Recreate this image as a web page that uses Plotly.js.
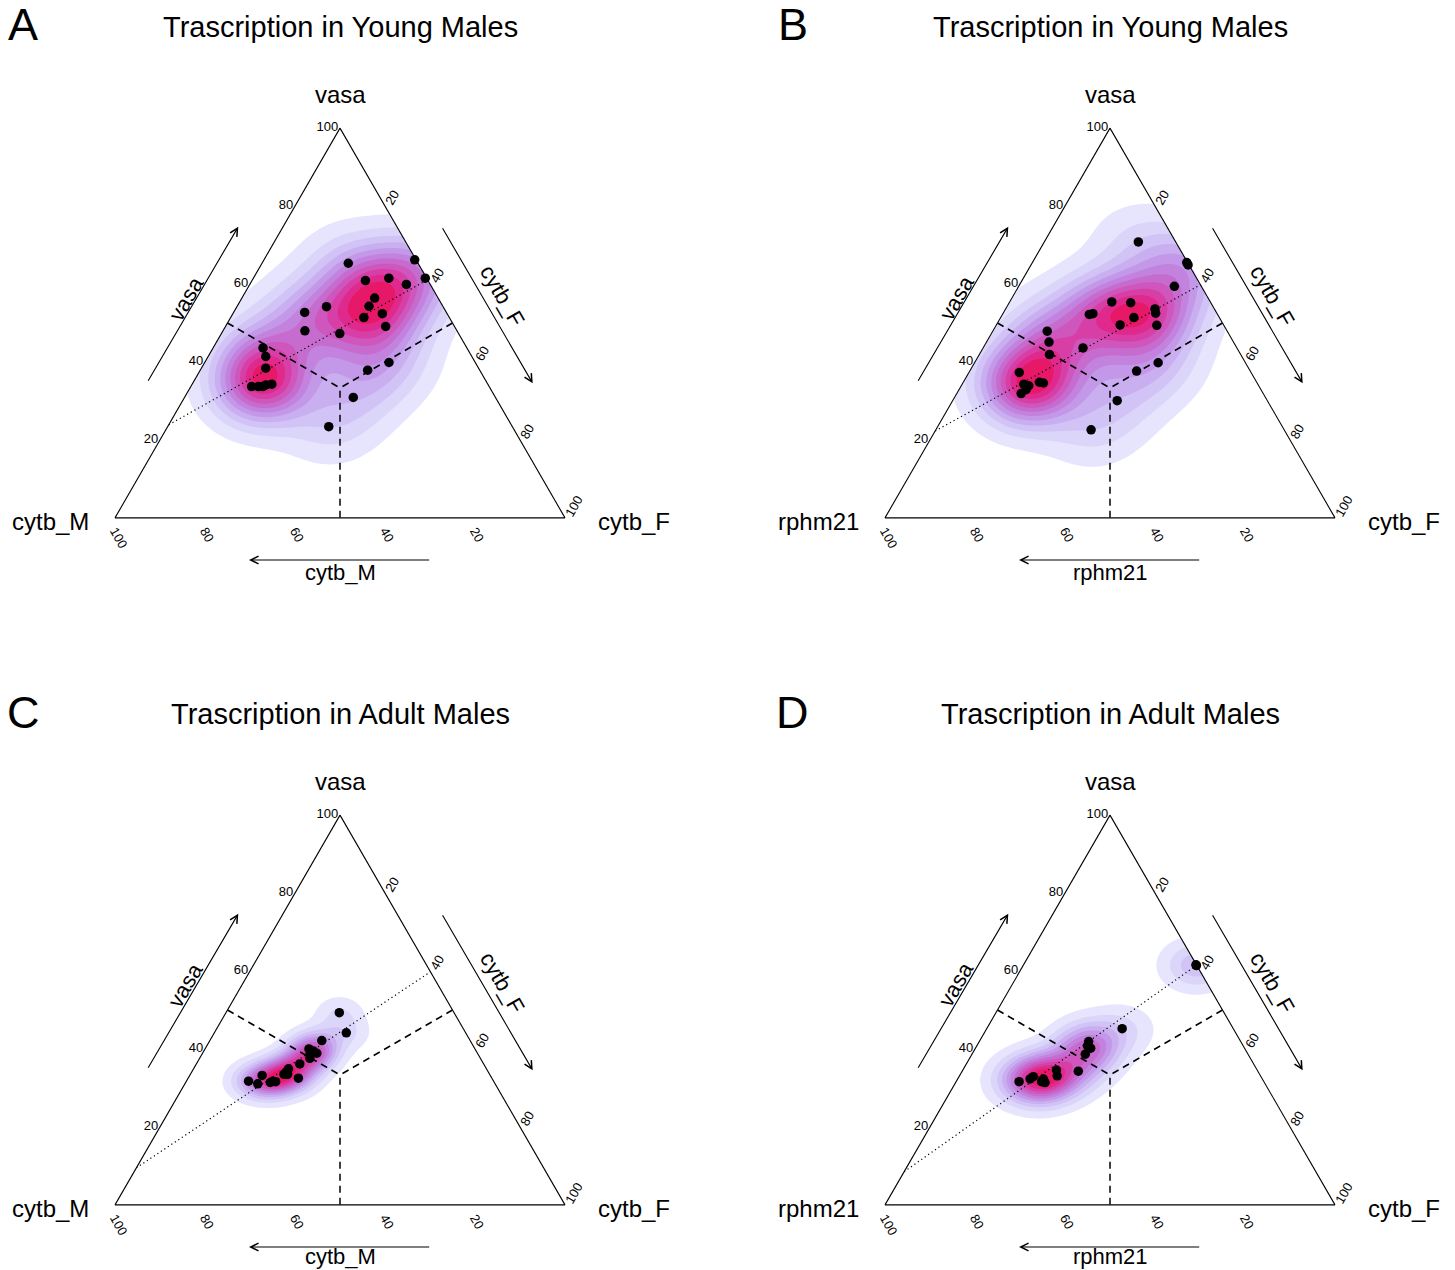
<!DOCTYPE html>
<html><head><meta charset="utf-8">
<script src="https://cdn.plot.ly/plotly-3.0.1.min.js"></script>
<style>html,body{margin:0;padding:0;background:#fff}#chart{width:1455px;height:1270px}</style>
</head><body><div id="chart"></div>
<script>
// ---------------- DATA (percent) ----------------
// Panel A: Young males, vasa / cytb_M / cytb_F
const A_vasa  = [65.4,66.2,61.5,60.9,61.5,59.9,56.4,54.3,51.4,52.4,49.1,54.2,52.7,48.0,47.3,43.6,41.4,38.4,33.7,33.7,33.7,34.1,34.3,39.9,37.9,30.9,23.4];
const A_cytbM = [15.5, 0.3, 0.3,13.9, 8.4, 5.3,14.1,16.4,19.0,14.4,15.3,25.9,31.5,33.8,26.4,45.3,45.8,47.3,52.8,51.3,50.3,49.4,48.0,19.2,24.9,31.6,40.8];
const A_cytbF = [19.2,33.5,38.2,25.2,30.1,34.8,29.5,29.3,29.6,33.2,35.6,19.9,15.8,18.2,26.3,11.1,12.8,14.3,13.5,15.0,16.0,16.5,17.7,41.0,37.2,37.5,35.8];
// Panel B: Young males, vasa / rphm21 / cytb_F
const B_vasa   = [70.8,65.5,64.9,59.4,55.4,55.2,53.6,52.5,51.4,49.5,49.4,52.2,52.4,47.9,45.1,41.9,43.6,37.3,34.3,33.9,32.9,31.9,34.8,34.6,39.8,37.6,30.1,22.6];
const B_rphm21 = [ 8.3, 0.2, 0.2, 6.0,21.9,17.8,13.2,13.6,19.0,23.0,14.9,28.5,27.6,40.0,41.0,42.5,34.2,51.5,52.0,51.1,52.2,53.8,48.3,47.5,19.4,25.2,33.4,42.9];
const B_cytbF  = [20.9,34.3,34.9,34.6,22.7,27.0,33.2,33.9,29.6,27.5,35.7,19.3,20.0,12.1,13.9,15.6,22.2,11.2,13.7,15.0,14.9,14.3,16.9,17.9,40.8,37.0,36.6,34.5];
// Panel C: Adult males, vasa / cytb_M / cytb_F
const C_vasa  = [49.3,44.1,42.2,40.0,39.5,38.9,38.7,37.6,36.2,34.9,34.1,33.5,33.5,32.5,31.7,31.4,31.6,33.2,31.1,31.7];
const C_cytbM = [25.5,26.5,33.0,36.9,36.2,35.7,37.3,37.9,40.9,44.0,45.0,45.7,44.9,43.0,49.1,49.8,48.5,50.7,52.8,54.4];
const C_cytbF = [25.2,29.3,24.9,23.1,24.3,25.4,24.0,24.5,23.0,21.1,21.0,20.8,21.6,24.5,19.2,18.8,19.9,16.1,16.2,13.8];
// Panel D: Adult males, vasa / rphm21 / cytb_F
const D_vasa   = [61.4,61.6,45.2,41.9,40.8,40.2,38.7,34.3,34.6,33.1,32.3,31.6,31.4,32.9,32.3,31.6];
const D_rphm21 = [ 0.1, 0.1,24.7,33.8,34.6,34.2,36.2,39.9,44.6,45.2,48.7,49.4,48.8,50.6,51.6,54.4];
const D_cytbF  = [38.5,38.3,30.1,24.3,24.6,25.6,25.2,25.8,20.8,21.7,19.1,19.0,19.9,16.5,16.1,14.0];

// dotted trend lines (two end points each)
const A_line = {vasa:[23.9,61.1], left:[76.1,0], right:[0,38.9]};
const B_line = {vasa:[22.3,59.8], left:[77.7,0], right:[0,40.2]};
const C_line = {vasa:[9.5,59.8],  left:[90.5,0], right:[0,40.2]};
const D_line = {vasa:[8.5,61.5],  left:[91.5,0], right:[0,38.5]};

// tick labels
const tickVals = [20,40,60,80,100];
const tickText = ['20','40','60','80','100'];

const titles  = ['Trascription in Young Males','Trascription in Young Males','Trascription in Adult Males','Trascription in Adult Males'];
const letters = ['A','B','C','D'];
const topLabel = 'vasa';
const leftLabels  = ['cytb_M','rphm21','cytb_M','rphm21'];
const rightLabels = ['cytb_F','cytb_F','cytb_F','cytb_F'];

// ---------------- LAYOUT HELPERS ----------------
const W=1455, H=1270, SIDE=450, TH=SIDE*Math.sqrt(3)/2;
const FONT='Liberation Sans, Arial, Helvetica, sans-serif';
const origins = [[115,518],[885,518],[115,1205],[885,1205]];
const dataSets = [
  [A_vasa,A_cytbM,A_cytbF,A_line],
  [B_vasa,B_rphm21,B_cytbF,B_line],
  [C_vasa,C_cytbM,C_cytbF,C_line],
  [D_vasa,D_rphm21,D_cytbF,D_line]
];
const bandColors = ['rgba(255,255,255,0)','#e6e5fd','#dcd5fa','#d2c3f6','#c9aef0','#c398e8','#c282dd','#c66ccf','#ce56bd','#d73fa7','#e0298c','#e81868'];

function bw(v){
  const n=v.length, m=v.reduce((s,x)=>s+x,0)/n;
  const sd=Math.sqrt(v.reduce((s,x)=>s+(x-m)*(x-m),0)/(n-1));
  const s=[...v].sort((p,q)=>p-q);
  const q=p=>{const h=(n-1)*p, lo=Math.floor(h); return s[lo]+(h-lo)*(s[Math.min(lo+1,n-1)]-s[lo]);};
  let sig=Math.min(sd,(q(0.75)-q(0.25))/1.34); if(!(sig>0)) sig=sd;
  return 1.06*sig*Math.pow(n,-0.2);
}

function density(av,bv,cv,factor){
  const xs=[],ys=[];
  for(let i=0;i<av.length;i++){
    const s=av[i]+bv[i]+cv[i], a=av[i]/s, c=cv[i]/s;
    xs.push(c+a/2); ys.push(a*Math.sqrt(3)/2);
  }
  const hx=bw(xs)*factor, hy=bw(ys)*factor;
  const NX=226, NY=196, gx=[], gy=[], z=[];
  for(let i=0;i<NX;i++) gx.push(i/(NX-1));
  for(let j=0;j<NY;j++) gy.push(j/(NY-1));
  let mx=0;
  for(let j=0;j<NY;j++){
    const row=[], a=gy[j], Y=a*Math.sqrt(3)/2;
    for(let i=0;i<NX;i++){
      const x=gx[i];
      if(x<a/2-1e-9 || x>1-a/2+1e-9){row.push(0);continue;}
      let d=0;
      for(let k=0;k<xs.length;k++){
        const dx=(x-xs[k])/hx, dy=(Y-ys[k])/hy;
        d+=Math.exp(-0.5*(dx*dx+dy*dy));
      }
      row.push(d); if(d>mx) mx=d;
    }
    z.push(row);
  }
  return {gx,gy,z,mx};
}

const traces=[], annotations=[], layout={
  width:W, height:H, margin:{l:0,r:0,t:0,b:0}, paper_bgcolor:'#fff', plot_bgcolor:'rgba(0,0,0,0)',
  showlegend:false, font:{family:FONT,color:'#000'}
};

function tAxis(angle){
  return {title:{text:''}, tickmode:'array', tickvals:tickVals, ticktext:tickText, tickangle:angle,
    ticks:'', showgrid:false, showline:true, linecolor:'#000', linewidth:1.1,
    tickfont:{family:FONT,size:13,color:'#000'}, showticklabels:true};
}
function txt(x,y,text,size,extra){
  return Object.assign({x:x/W,y:1-y/H,xref:'paper',yref:'paper',text:text,showarrow:false,
    font:{family:FONT,size:size,color:'#000'},xanchor:'center',yanchor:'middle'},extra||{});
}
function arrow(tx,ty,hx,hy){
  return {x:hx/W,y:1-hy/H,xref:'paper',yref:'paper',ax:tx-hx,ay:ty-hy,axref:'pixel',ayref:'pixel',
    text:'',showarrow:true,arrowhead:5,arrowsize:1.4,arrowwidth:1.1,arrowcolor:'#000',standoff:0,startstandoff:0};
}

origins.forEach(([ox,oy],p)=>{
  const [av,bv,cv,ln]=dataSets[p];
  const sfx = p===0?'':String(p+1);
  const tid='ternary'+sfx;
  const dom={x:[ox/W,(ox+SIDE)/W], y:[1-oy/H, 1-(oy-390)/H]};
  layout[tid]={domain:dom, sum:100, bgcolor:'rgba(0,0,0,0)', aaxis:tAxis(0), baxis:tAxis(60), caxis:tAxis(-60)};
  // hidden cartesian axes carrying the density contour, aligned with the triangle
  const yb = oy-195+TH/2, yt = oy-195-TH/2;
  layout['xaxis'+sfx]={domain:dom.x, range:[0,1], visible:false, fixedrange:true, anchor:'y'+sfx};
  layout['yaxis'+sfx]={domain:[1-yb/H,1-yt/H], range:[0,1], visible:false, fixedrange:true, anchor:'x'+sfx};

  const den=density(av,bv,cv,1.05);
  const nLev=bandColors.length-1;
  const start=den.mx*0.055, size=den.mx*0.083;
  traces.push({type:'contour', x:den.gx, y:den.gy, z:den.z, xaxis:'x'+sfx, yaxis:'y'+sfx,
    autocontour:false, contours:{start:start, end:start+(nLev-1)*size, size:size, coloring:'fill', showlines:false},
    line:{width:0}, colorscale:bandColors.map((c,k)=>[k/nLev,c]), showscale:false, hoverinfo:'skip'});

  // dashed centroid lines
  const med=[[50,50,0],[50,0,50],[0,50,50]];
  med.forEach(m=>{
    traces.push({type:'scatterternary', subplot:tid, mode:'lines', a:[m[0],100/3], b:[m[1],100/3], c:[m[2],100/3],
      line:{color:'#000',width:1.5,dash:'7px,5px'}, hoverinfo:'skip', cliponaxis:false});
  });
  // dotted line
  traces.push({type:'scatterternary', subplot:tid, mode:'lines', a:ln.vasa, b:ln.left, c:ln.right,
    line:{color:'#000',width:1.2,dash:'1.2px,3px'}, hoverinfo:'skip', cliponaxis:false});
  // points
  traces.push({type:'scatterternary', subplot:tid, mode:'markers', a:av, b:bv, c:cv,
    marker:{color:'#000',size:9.5,line:{width:0}}, cliponaxis:false});

  // text
  const botY = p<2 ? oy+54 : oy+51;
  annotations.push(txt(ox-92, oy-493, letters[p], 45));
  annotations.push(txt(ox+225, oy-491, titles[p], 29));
  annotations.push(txt(ox+225, oy-423, topLabel, 24));
  annotations.push(txt(ox-24, oy+3, leftLabels[p], 24, {xanchor:'right'}));
  annotations.push(txt(ox+481, oy+3, rightLabels[p], 24, {xanchor:'left'}));
  annotations.push(txt(ox+225, botY, leftLabels[p], 22));
  annotations.push(txt(ox+71, oy-220, topLabel, 22, {textangle:-60}));
  annotations.push(txt(ox+387.5, oy-223, rightLabels[p], 22, {textangle:60}));
  // arrows
  annotations.push(arrow(ox+32.3, oy-135.7, ox+123.3, oy-291.3));
  annotations.push(arrow(ox+326.7, oy-291.3, ox+417.7, oy-134.7));
  annotations.push(arrow(ox+315.7, oy+42, ox+134, oy+42));
});
layout.annotations=annotations;
Plotly.newPlot('chart', traces, layout, {staticPlot:true, displayModeBar:false});
</script>
</body></html>
